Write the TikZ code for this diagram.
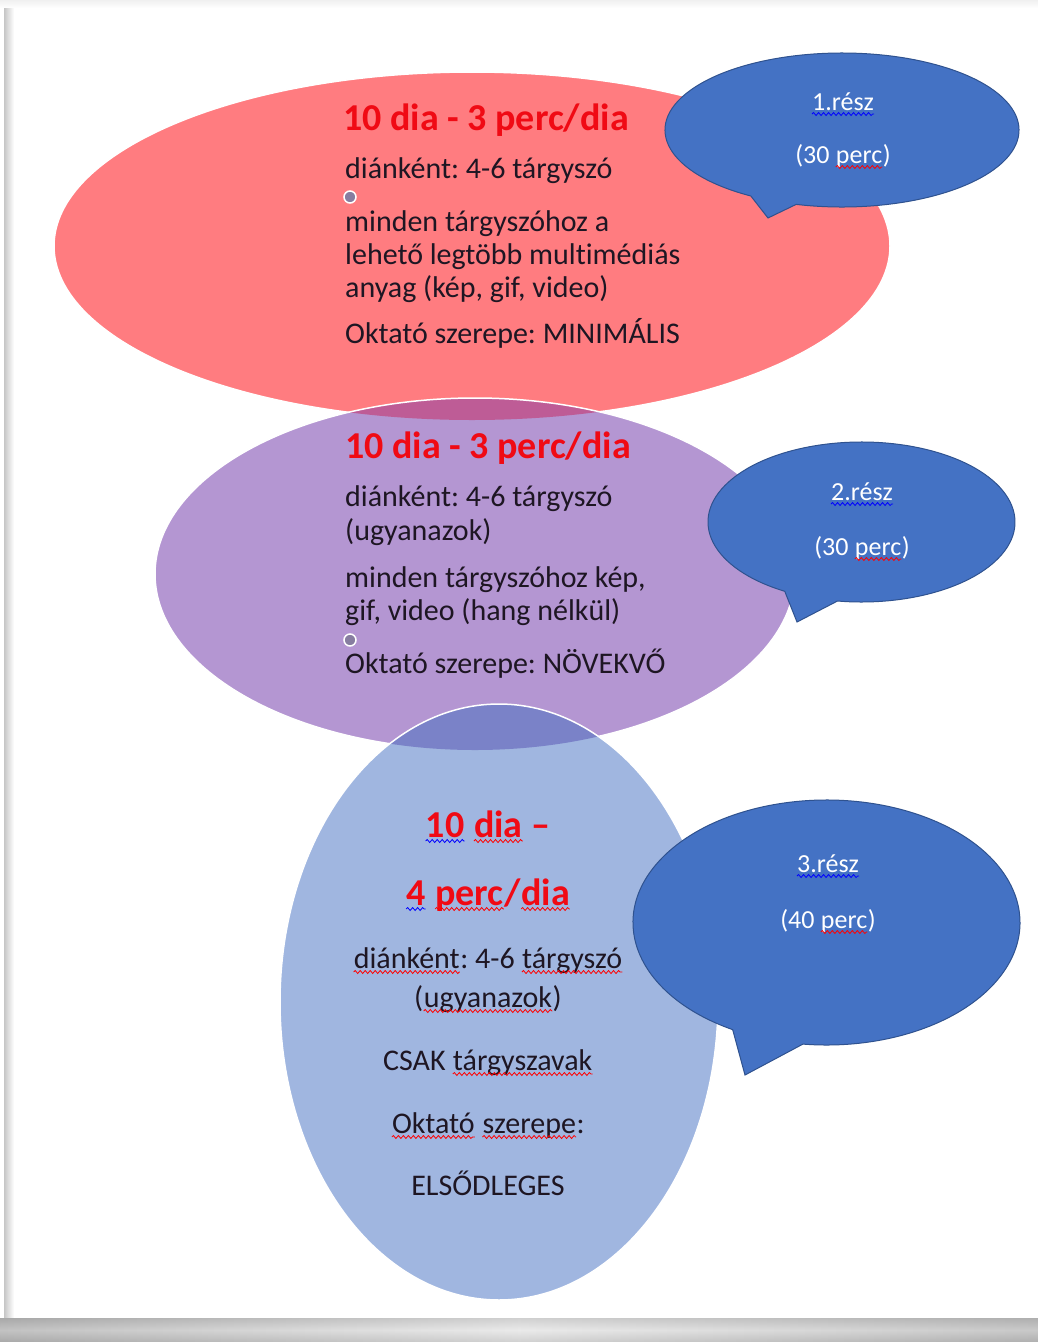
\documentclass[tikz,border=0pt]{standalone}
\usepackage{fontspec}
\setmainfont{Carlito}[Ligatures=NoCommon]
\usetikzlibrary{shapes,decorations.pathmorphing}

\definecolor{vennred}{RGB}{255,124,128}
\definecolor{vennpurple}{RGB}{180,150,210}
\definecolor{redpurple}{RGB}{190,92,150}
\definecolor{vennblue}{RGB}{160,182,224}
\definecolor{purpleblue}{RGB}{122,130,200}
\definecolor{bubbleblue}{RGB}{68,114,196}
\definecolor{bubbleline}{RGB}{47,82,143}
\definecolor{titlered}{RGB}{240,10,20}
\definecolor{textdark}{RGB}{30,22,35}
\definecolor{handlegray}{RGB}{135,125,160}

% spell check waves
\newcommand{\wavedword}[2]{\tikz[baseline=(w.base)]{\node[inner sep=0pt] (w) {#2};
    \draw[#1,line width=0.8pt,decorate,decoration={snake,amplitude=1.5pt,segment length=5pt}]
    ([yshift=-4pt]w.base west) -- ([yshift=-4pt]w.base east);}}
\newcommand{\redwave}[1]{\wavedword{red}{#1}}
\newcommand{\bluewave}[1]{\wavedword{blue}{#1}}

\frenchspacing
\begin{document}
\begin{tikzpicture}[x=1pt,y=-1pt,
    venn/.style={draw=white,line width=1.5pt},
    bubble/.style={fill=bubbleblue,draw=bubbleline,line width=1pt},
    title/.style={inner sep=0pt,text=titlered,font=\fontsize{38}{42}\selectfont\bfseries},
    body/.style={inner sep=0pt,text=textdark,font=\fontsize{30}{33}\selectfont},
    btext/.style={inner sep=0pt,text=white,font=\fontsize{26}{30}\selectfont},
    handle/.style={circle,draw=white,fill=handlegray,line width=1.5pt,inner sep=0pt,minimum size=12pt}]
    \useasboundingbox (0,0) rectangle (1038,1342);
    % page with its shadow
    \fill[white] (0,0) rectangle (1038,1342);
    \shade[top color=gray!12,bottom color=white] (0,0) rectangle (1038,8);
    \shade[left color=gray!45,right color=white] (4,8) rectangle (14,1318);
    \shade[left color=gray!75,right color=gray!65,middle color=gray!12] (0,1318) rectangle (1038,1342);
    \shade[top color=gray!60,bottom color=gray!60,middle color=gray!20,opacity=0.5] (0,1318) rectangle (1038,1342);

    % the three parts
    \path[venn,fill=vennred] (472,246) ellipse [x radius=418,y radius=174];
    \fill[vennpurple] (475,574) ellipse [x radius=320,y radius=176];
    \begin{scope}
        \clip (472,246) ellipse [x radius=418,y radius=174];
        \fill[redpurple] (475,574) ellipse [x radius=320,y radius=176];
    \end{scope}
    \draw[white,line width=1.5pt] (475,574) ellipse [x radius=320,y radius=176];
    \fill[vennblue] (499,1002) ellipse [x radius=219,y radius=298];
    \begin{scope}
        \clip (475,574) ellipse [x radius=320,y radius=176];
        \fill[purpleblue] (499,1002) ellipse [x radius=219,y radius=298];
    \end{scope}
    \draw[white,line width=1.5pt] (499,1002) ellipse [x radius=219,y radius=298];

    % speech bubbles
    \path[bubble] (842,130) ++(121:177 and 77) arc[start angle=121,end angle=465,x radius=177,y radius=77] -- (768,218) -- cycle;
    \path[bubble] (861.5,522) ++(120:153.5 and 80) arc[start angle=120,end angle=459,x radius=153.5,y radius=80] -- (797,622) -- cycle;
    \path[bubble] (826.5,922.5) ++(119:193.5 and 122.5) arc[start angle=119,end angle=457,x radius=193.5,y radius=122.5] -- (745,1075) -- cycle;

    \node[handle] (h1) at (350,197) {};
    \node[handle] (h2) at (350,640) {};

    % 1. part
    \node[title,anchor=base west] (t1) at (343,130) {10 dia - 3 perc/dia};
    \foreach \i/\y/\t in {1/178/{diánként: 4-6 tárgyszó},2/231/{minden tárgyszóhoz a},
        3/264/{lehető legtöbb multimédiás},4/297/{anyag (kép, gif, video)},5/343/{Oktató szerepe: MINIMÁLIS}} {
        \node[body,anchor=base west] (a\i) at (345,\y) {\t};
    }
    % 2. part
    \node[title,anchor=base west] (t2) at (345,458) {10 dia - 3 perc/dia};
    \foreach \i/\y/\t in {1/506/{diánként: 4-6 tárgyszó},2/540/{(ugyanazok)},3/587/{minden tárgyszóhoz kép,},
        4/620/{gif, video (hang nélkül)},5/673/{Oktató szerepe: NÖVEKVŐ}} {
        \node[body,anchor=base west] (b\i) at (345,\y) {\t};
    }
    % 3. part
    \node[title,anchor=base] (t3) at (488,837) {\bluewave{10} \redwave{dia} –};
    \node[title,anchor=base] (t4) at (488,905) {\bluewave{4} \redwave{perc}/\redwave{dia}};
    \foreach \i/\y/\t in {1/968/{\redwave{diánként}: 4-6 \redwave{tárgyszó}},2/1007/{(\redwave{ugyanazok})},
        3/1070/{CSAK \redwave{tárgyszavak}},4/1133/{\redwave{Oktató} \redwave{szerepe}:},5/1195/{ELSŐDLEGES}} {
        \node[body,anchor=base] (c\i) at (488,\y) {\t};
    }

    % bubble texts
    \node[btext,anchor=base] (p1) at (843,110) {\bluewave{1.rész}};
    \node[btext,anchor=base] (m1) at (843,163) {(30 \redwave{perc})};
    \node[btext,anchor=base] (p2) at (862,500) {\bluewave{2.rész}};
    \node[btext,anchor=base] (m2) at (862,555) {(30 \redwave{perc})};
    \node[btext,anchor=base] (p3) at (828,872) {\bluewave{3.rész}};
    \node[btext,anchor=base] (m3) at (828,928) {(40 \redwave{perc})};
\end{tikzpicture}
\end{document}
